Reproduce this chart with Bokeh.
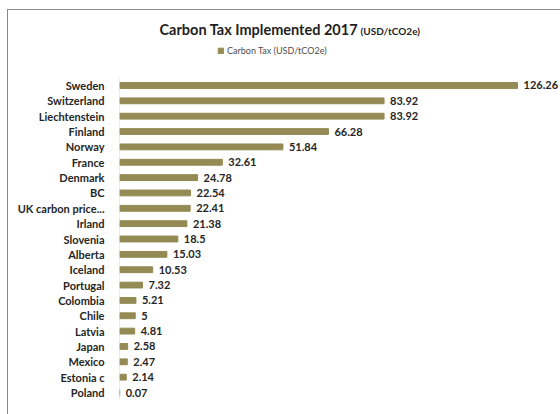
from bokeh.plotting import figure
from bokeh.models import ColumnDataSource, Label, Legend, LegendItem, Range1d, FixedTicker
from bokeh.core.properties import value
from bokeh.embed import file_html
from bokeh.resources import INLINE

countries = ["Sweden", "Switzerland", "Liechtenstein", "Finland", "Norway", "France",
             "Denmark", "BC", "UK carbon price...", "Irland", "Slovenia", "Alberta",
             "Iceland", "Portugal", "Colombia", "Chile", "Latvia", "Japan", "Mexico",
             "Estonia c", "Poland"]
taxes = [126.26, 83.92, 83.92, 66.28, 51.84, 32.61, 24.78, 22.54, 22.41, 21.38, 18.5,
         15.03, 10.53, 7.32, 5.21, 5, 4.81, 2.58, 2.47, 2.14, 0.07]
title_main = "Carbon Tax Implemented 2017"
title_unit = "(USD/tCO2e)"
series_name = "Carbon Tax (USD/tCO2e)"

FONT = "Lato"
BAR = "#948a54"
n = len(countries)
pos = list(range(n))

source = ColumnDataSource(dict(
    pos=pos,
    tax=taxes,
    label=[f"{v:g}" for v in taxes],
))

# frame spans the full height so that title and legend can sit inside it
p = figure(width=553, height=405, margin=(9, 0, 0, 7),
           y_range=Range1d(n - 0.415, -4.885),
           x_range=Range1d(0, 140.2),
           min_border_left=111, min_border_right=0, min_border_top=0, min_border_bottom=14,
           output_backend="svg", toolbar_location=None)
p.styles = {"border-left": "1px solid #8a8a8a", "border-top": "1px solid #8a8a8a"}

r = p.hbar(y="pos", right="tax", height=0.38, color=BAR, source=source)
p.text(x="tax", y="pos", text="label", source=source, x_offset=6,
       text_baseline="middle", text_align="left", text_font=value(FONT),
       text_font_style="bold", text_font_size="11px", text_color="#262626")
# category axis line
p.segment(x0=[0], x1=[0], y0=[-0.5], y1=[n - 0.5], line_color="#d9d9d9", line_width=1)

p.xaxis.visible = False
p.xgrid.visible = False
p.ygrid.visible = False
p.outline_line_color = None

ax = p.yaxis[0]
ax.ticker = FixedTicker(ticks=pos)
ax.major_label_overrides = {i: c for i, c in zip(pos, countries)}
ax.axis_line_color = None
ax.major_tick_line_color = None
ax.minor_tick_line_color = None
ax.major_label_standoff = 9
ax.major_label_text_font = FONT
ax.major_label_text_font_style = "bold"
ax.major_label_text_font_size = "11px"
ax.major_label_text_color = "#262626"

legend = Legend(items=[LegendItem(label=series_name, renderers=[r])],
                location=(98, 345), orientation="horizontal",
                label_text_font=FONT, label_text_font_size="9px",
                label_text_color="#4d4d4d", glyph_width=7, glyph_height=7,
                label_standoff=3, border_line_color=None,
                background_fill_alpha=0, padding=0, margin=0)
p.add_layout(legend, "center")

p.add_layout(Label(x=40, y=372, x_units="screen", y_units="screen", text=title_main,
                   text_font=FONT, text_font_style="bold", text_font_size="14.5px",
                   text_color="#1f1f1f", text_baseline="middle"))
p.add_layout(Label(x=241, y=371, x_units="screen", y_units="screen", text=title_unit,
                   text_font=FONT, text_font_style="bold", text_font_size="10px",
                   text_color="#1f1f1f", text_baseline="middle"))

open("out.html", "w").write(file_html(p, INLINE))
